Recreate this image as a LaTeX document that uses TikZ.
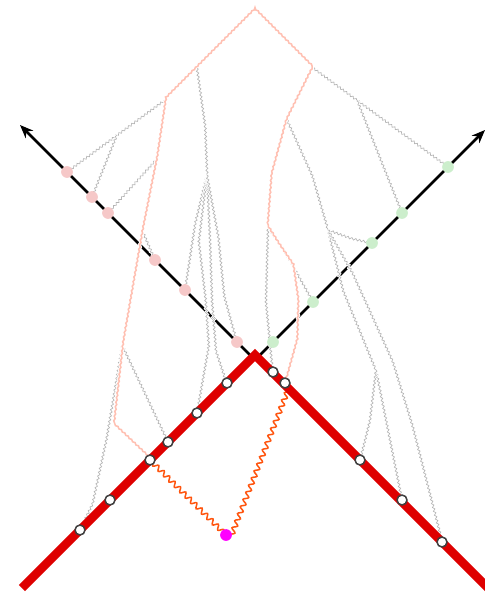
\documentclass[tikz,border=0pt]{standalone}
\usepackage{tikz}
\usetikzlibrary{
  arrows.meta,
  decorations.pathmorphing
}
\definecolor{conered}{RGB}{222,0,0}
\definecolor{cutpink}{RGB}{255,192,178}
\definecolor{wigorange}{RGB}{255,85,15}
\definecolor{propgray}{RGB}{180,180,180}
\definecolor{pastpink}{RGB}{246,200,200}
\definecolor{futgreen}{RGB}{204,238,204}
\definecolor{srcmag}{RGB}{255,0,255}
\tikzset{
  cone/.style={line width=7.5pt,draw=conered,line join=miter},
  axis/.style={-{Stealth[length=4mm,width=3.2mm]},line width=2.3pt,draw=black},
  prop/.style={draw=propgray,line width=0.55pt,decorate,
    decoration={snake,amplitude=0.9pt,segment length=3.4pt},
    preaction={draw=white,line width=2pt}},
  cutline/.style={draw=cutpink,line width=1.3pt,decorate,
    decoration={snake,amplitude=0.5pt,segment length=4pt},
    preaction={draw=white,line width=2.8pt}},
  wig/.style={draw=wigorange,line width=1.3pt,decorate,
    decoration={snake,amplitude=2pt,segment length=6.5pt}},
  extpt/.style={circle,draw=black!75,fill=white,line width=1.3pt,
    inner sep=0pt,minimum size=8.5pt},
  pastpt/.style={circle,fill=pastpink,inner sep=0pt,minimum size=10pt},
  futpt/.style={circle,fill=futgreen,inner sep=0pt,minimum size=10pt},
  srcpt/.style={circle,fill=srcmag,inner sep=0pt,minimum size=10pt}
}

\begin{document}
\begin{tikzpicture}[x=0.03cm,y=-0.03cm]
  \useasboundingbox (0,0) rectangle (485,597);
  % cone and time axes
  \coordinate (apex) at (255,355);
  \coordinate (lend) at (22,588);
  \coordinate (rend) at (488,588);
  \coordinate (cross) at (255,360);
  \coordinate (ltip) at (20,125);
  \coordinate (rtip) at (485,130);
  % points on the past axis
  \coordinate (pa) at (67,172);
  \coordinate (pb) at (92,197);
  \coordinate (pc) at (108,213);
  \coordinate (pd) at (155,260);
  \coordinate (pe) at (185,290);
  \coordinate (pf) at (237,342);
  % points on the future axis
  \coordinate (ga) at (448,167);
  \coordinate (gb) at (402,213);
  \coordinate (gc) at (372,243);
  \coordinate (gd) at (313,302);
  \coordinate (ge) at (273,342);
  % external points on the cone
  \coordinate (la) at (227,383);
  \coordinate (lb) at (197,413);
  \coordinate (lc) at (168,442);
  \coordinate (ld) at (150,460);
  \coordinate (le) at (110,500);
  \coordinate (lf) at (80,530);
  \coordinate (ra) at (273,372);
  \coordinate (rb) at (285,383);
  \coordinate (rc) at (360,460);
  \coordinate (rd) at (402,500);
  \coordinate (re) at (442,542);
  \coordinate (src) at (226,535);
  % cut line corners
  \coordinate (top) at (255,10);
  \coordinate (sl1) at (197,68);
  \coordinate (sl2) at (165,100);
  \coordinate (sl3) at (156,160);
  \coordinate (sl4) at (142,230);
  \coordinate (sl5) at (131,293);
  \coordinate (sl6) at (122,345);
  \coordinate (sl7) at (113,425);
  \coordinate (sr1) at (313,68);
  \coordinate (sr2) at (287,120);
  \coordinate (sr3) at (272,175);
  \coordinate (sr4) at (268,227);
  \coordinate (sr5) at (278,243);
  \coordinate (sr6) at (293,265);
  \coordinate (sr7) at (298,300);
  \coordinate (sr8) at (297,340);
  % inner vertices
  \coordinate (pm) at (117,135);
  \coordinate (cv) at (207,175);
  \coordinate (rv) at (357,100);
  \coordinate (vr) at (328,230);
  \coordinate (va) at (376,370);

  \draw[axis] (cross)--(ltip);
  \draw[axis] (cross)--(rtip);

  \draw[prop] (pa)--(sl2);
  \draw[prop] (pb)--(pm);
  \draw[prop] (pc)--(sl3);
  \draw[prop] (pd)--(sl4);
  \draw[prop] (sl1)--(205,125)--(cv);
  \draw[prop] (pe)--(195,225)--(cv);
  \draw[prop] (cv)--(199,240)--(206,300)--(209,345)--(lb);
  \draw[prop] (cv)--(210,240)--(212,300)--(216,350)--(la);
  \draw[prop] (cv)--(218,235)--(224,295)--(pf);
  \draw[prop] (lc)--(sl6);
  \draw[prop] (lf)--(92,505)--(106,440)--(sl6);
  \draw[prop] (sr1)--(ga);
  \draw[prop] (gb)--(384,168)--(rv);
  \draw[prop] (sr2)--(312,175)--(vr);
  \draw[prop] (vr)--(350,238)--(gc);
  \draw[prop] (vr)--(343,290)--(va);
  \draw[prop] (va)--(388,430)--(rd);
  \draw[prop] (va)--(370,420)--(rc);
  \draw[prop] (vr)--(352,272)--(392,360)--(412,425)--(re);
  \draw[prop] (sr4)--(285,252)--(gd);
  \draw[prop] (sr4)--(266,300)--(ra);

  \draw[cutline] (rb)--(sr8)--(sr7)--(sr6)--(sr5)--(sr4)--(sr3)--(sr2)
    --(sr1)--(top)--(sl1)--(sl2)--(sl3)--(sl4)--(sl5)--(sl6)--(sl7)--(ld);
  \draw[wig] (ld)--(src)--(rb);

  \draw[cone] (lend)--(apex)--(rend);

  \node[pastpt] (pdota) at (pa) {};
  \node[pastpt] (pdotb) at (pb) {};
  \node[pastpt] (pdotc) at (pc) {};
  \node[pastpt] (pdotd) at (pd) {};
  \node[pastpt] (pdote) at (pe) {};
  \node[pastpt] (pdotf) at (pf) {};
  \node[futpt] (gdota) at (ga) {};
  \node[futpt] (gdotb) at (gb) {};
  \node[futpt] (gdotc) at (gc) {};
  \node[futpt] (gdotd) at (gd) {};
  \node[futpt] (gdote) at (ge) {};
  \node[extpt] (ldota) at (la) {};
  \node[extpt] (ldotb) at (lb) {};
  \node[extpt] (ldotc) at (lc) {};
  \node[extpt] (ldotd) at (ld) {};
  \node[extpt] (ldote) at (le) {};
  \node[extpt] (ldotf) at (lf) {};
  \node[extpt] (rdota) at (ra) {};
  \node[extpt] (rdotb) at (rb) {};
  \node[extpt] (rdotc) at (rc) {};
  \node[extpt] (rdotd) at (rd) {};
  \node[extpt] (rdote) at (re) {};
  \node[srcpt] (srcdot) at (src) {};
\end{tikzpicture}
\end{document}
